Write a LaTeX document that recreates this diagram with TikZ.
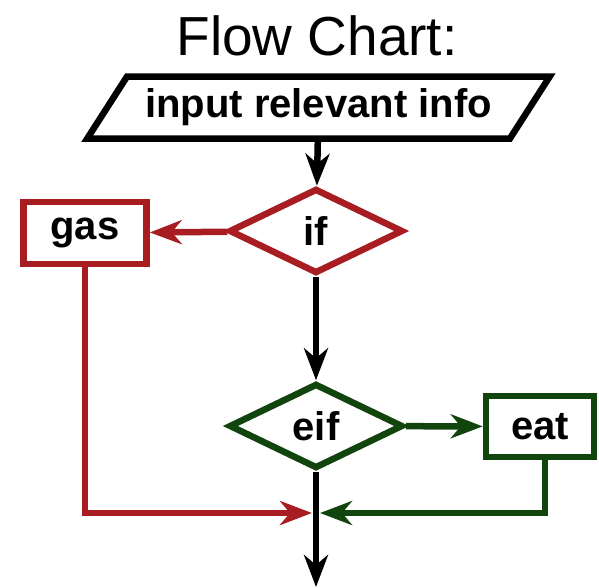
\documentclass[tikz,border=0pt]{standalone}
\usepackage{fontspec}
\setmainfont{Liberation Sans}
\usetikzlibrary{shapes.geometric,arrows.meta}
\definecolor{ifred}{RGB}{168,29,33}
\definecolor{eifgreen}{RGB}{18,68,14}
\begin{document}
\begin{tikzpicture}[x=1pt,y=1pt]
 \tikzset{txt/.style={font=\bfseries\fontsize{40}{48}\selectfont, inner sep=0pt}}
 \tikzset{box/.style={txt, draw, rectangle, line width=6.5pt}}
 \tikzset{cond/.style={txt, draw, diamond, line width=6.5pt, minimum width=174pt, minimum height=85pt}}
 \tikzset{io/.style={txt, draw, trapezium, trapezium left angle=46, trapezium right angle=134, trapezium stretches=true, line width=6.5pt, minimum width=464pt, minimum height=62pt}}
 \tikzset{flow/.style={line width=6.5pt, -{Stealth[length=32pt,width=24pt,inset=10pt]}}}
 \def\midx{316}

 \useasboundingbox (0,0) rectangle (599,-587);

 \node[font=\fontsize{55}{66}\selectfont, inner sep=0pt] (title) at (317,-36) {Flow Chart:};
 \node[io] (input) at (318.5,-107.5) {input relevant info};
 \node[cond, ifred] (if) at (\midx,-231) {\textcolor{black}{if}};
 \node[box, ifred, minimum width=123pt, minimum height=62pt] (gas) at (85,-233) {\textcolor{black}{gas}};
 \node[cond, eifgreen] (eif) at (\midx,-426) {\textcolor{black}{eif}};
 \node[box, eifgreen, minimum width=108pt, minimum height=61pt] (eat) at (540,-426.5) {\textcolor{black}{eat}};
 \coordinate (merge) at (\midx,-513);
 \coordinate (exit) at (\midx,-587);

 \draw[flow] (input) -- (if);
 \draw[flow, ifred] (if) -- (gas);
 \draw[flow] (if) -- (eif);
 \draw[flow, eifgreen] (eif) -- (eat);
 \draw[flow, ifred, shorten >=4pt] (gas.south) |- (merge);
 \draw[flow, eifgreen, shorten >=4pt] ([xshift=5pt]eat.south) |- (merge);
 \draw[flow] (eif) -- (exit);

\end{tikzpicture}
\end{document}
